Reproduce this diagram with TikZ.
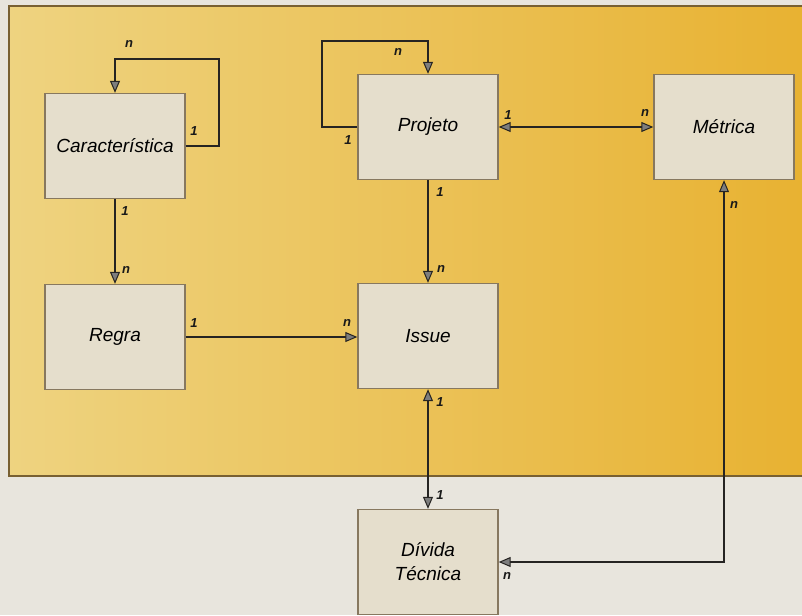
\documentclass[tikz,border=0pt]{standalone}
\usepackage{fontspec}
\setmainfont{Liberation Sans}
\usetikzlibrary{arrows.meta}
\definecolor{pagebg}{RGB}{232,229,221}
\definecolor{yelL}{RGB}{238,211,128}
\definecolor{yelR}{RGB}{232,178,50}
\definecolor{framec}{RGB}{120,96,50}
\definecolor{boxfill}{RGB}{229,222,204}
\definecolor{boxline}{RGB}{135,120,95}
\definecolor{linec}{RGB}{38,36,34}
\definecolor{headfill}{RGB}{125,125,125}
\tikzset{
  x=1pt, y=-1pt,
  entity/.style={draw=boxline, line width=1.4pt, fill=boxfill, minimum width=140pt, minimum height=105pt, inner sep=0pt, font=\fontsize{19}{24}\selectfont\itshape, align=center},
  conn/.style={draw=linec, line width=2.8pt},
  tip/.tip={Triangle[length=12pt,width=10pt,fill=headfill,line width=1pt]},
  card/.style={inner sep=0pt, text=black!90, font=\fontsize{13}{14}\selectfont\bfseries\itshape}
}
\begin{document}
\begin{tikzpicture}
\useasboundingbox (0,0) rectangle (802,615);
\fill[pagebg] (0,0) rectangle (802,615);
\shade[left color=yelL, right color=yelR] (9,6) rectangle (802,476);
\draw[framec, line width=1.8pt] (802,6) -- (9,6) -- (9,476) -- (802,476);

% entities
\node[entity] (car) at (115,146) {Característica};
\node[entity] (proj) at (428,127) {Projeto};
\node[entity] (met) at (724,127) {Métrica};
\node[entity] (regra) at (115,337) {Regra};
\node[entity] (issue) at (428,336) {Issue};
\node[entity] (div) at (428,562) {Dívida\\Técnica};

% helper coordinates
\coordinate (carloop) at (219,59);
\coordinate (projloop) at (322,41);

% connectors
\draw[conn,-tip] (car.east) -| (carloop) -| (car.north);
\draw[conn,-tip] (proj.west) -| (projloop) -| (proj.north);
\draw[conn,tip-tip] (proj.east) -- (met.west);
\draw[conn,-tip] (car.south) -- (regra.north);
\draw[conn,-tip] (proj.south) -- (issue.north);
\draw[conn,-tip] (regra.east) -- (issue.west |- regra.east);
\draw[conn,tip-tip] (issue.south) -- (div.north);
\draw[conn,tip-tip] (met.south) |- (div.east);

% cardinalities
\node[card] (c1) at (129,44) {n};
\node[card] (c2) at (194,131) {1};
\node[card] (c3) at (398,52) {n};
\node[card] (c4) at (348,140) {1};
\node[card] (c5) at (508,115) {1};
\node[card] (c6) at (645,113) {n};
\node[card] (c7) at (125,211) {1};
\node[card] (c8) at (126,270) {n};
\node[card] (c9) at (440,192) {1};
\node[card] (c10) at (441,269) {n};
\node[card] (c11) at (194,323) {1};
\node[card] (c12) at (347,323) {n};
\node[card] (c13) at (440,402) {1};
\node[card] (c14) at (440,495) {1};
\node[card] (c15) at (734,205) {n};
\node[card] (c16) at (507,576) {n};
\end{tikzpicture}
\end{document}
